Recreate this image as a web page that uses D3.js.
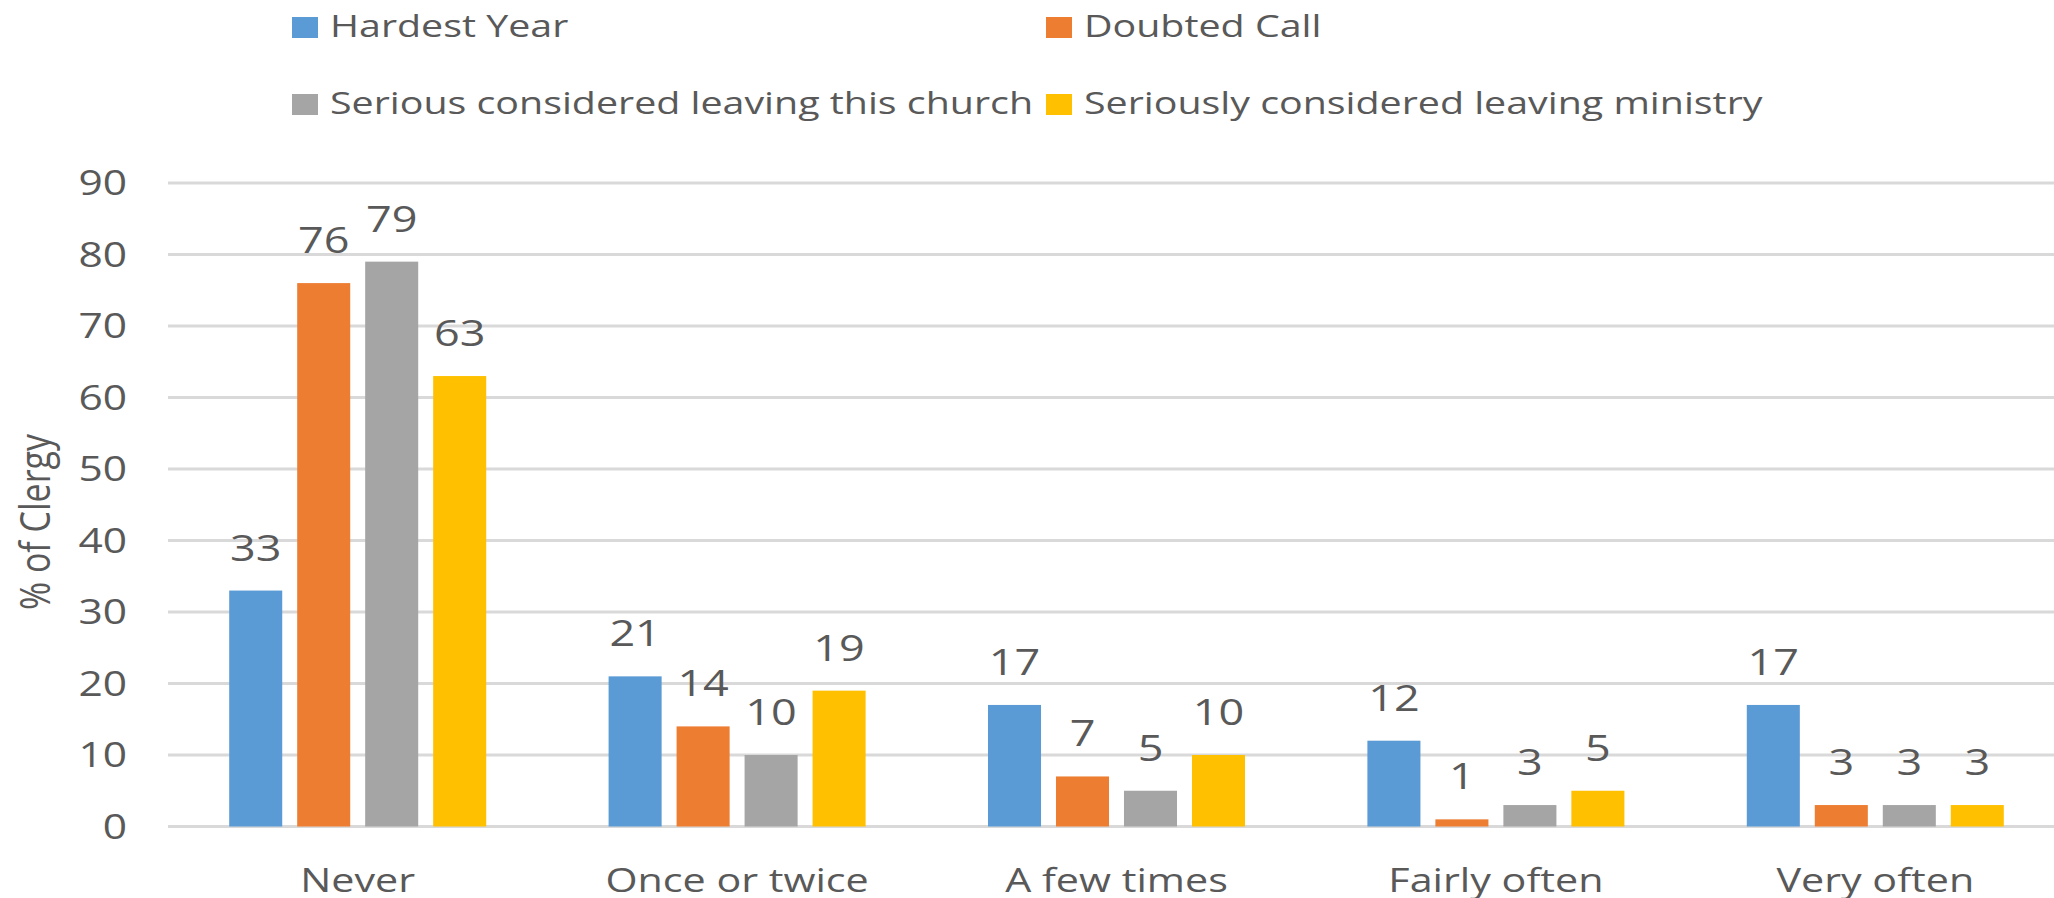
<!DOCTYPE html>
<html>
<head>
<meta charset="utf-8">
<script src="https://cdn.jsdelivr.net/npm/d3@7"></script>
<style>
    body { margin: 0; background: #fff; }
    text { font-family: "Open Sans", sans-serif; fill: #595959; }
</style>
</head>
<body>
<div id="chart_area"></div>
<script>
// data
var categories = ["Never", "Once or twice", "A few times", "Fairly often", "Very often"];
var series_names = ["Hardest Year", "Doubted Call",
    "Serious considered leaving this church", "Seriously considered leaving ministry"];
var hardest_year = [33, 21, 17, 12, 17];
var doubted_call = [76, 14, 7, 1, 3];
var leaving_church = [79, 10, 5, 3, 3];
var leaving_ministry = [63, 19, 10, 5, 3];
var y_ticks = [0, 10, 20, 30, 40, 50, 60, 70, 80, 90];

var colors = ["#5B9BD5", "#ED7D31", "#A5A5A5", "#FFC000"];
var all_series = [hardest_year, doubted_call, leaving_church, leaving_ministry];

var svg_w = 2054, svg_h = 898;
var stretch = 1.25; // text in the picture is a bit wide

var svg = d3.select("#chart_area")
    .append("svg")
    .attr("width", svg_w)
    .attr("height", svg_h);

var x0 = d3.scaleBand()
    .domain(categories)
    .range([168, 2065])
    .padding(0);

var x1 = d3.scaleBand()
    .domain(d3.range(series_names.length))
    .range([0, x0.bandwidth()])
    .paddingInner(0.22)
    .paddingOuter(0.9);

var yScale = d3.scaleLinear()
    .domain([0, 90])
    .range([826.5, 183]);

// stretched text helper
function put_text(parent, x, y, str, size, anchor, rot) {
    var g = parent.append("g")
        .attr("transform", "translate(" + x + "," + y + ") scale(" + stretch + ",1)" +
            (rot ? " rotate(" + rot + ")" : ""));
    return g.append("text")
        .attr("text-anchor", anchor)
        .style("font-size", size + "px")
        .text(str);
}

// gridlines
var grid = svg.append("g").attr("id", "grid");
grid.selectAll("line")
    .data(y_ticks)
    .enter()
    .append("line")
    .attr("x1", 168)
    .attr("x2", svg_w)
    .attr("y1", function(d){ return yScale(d); })
    .attr("y2", function(d){ return yScale(d); })
    .style("stroke", "#D9D9D9")
    .style("stroke-width", 3);

// y tick labels
var y_labels = svg.append("g").attr("id", "y_labels");
y_ticks.forEach(function(d){
    put_text(y_labels, 127, yScale(d) + 12, d, 34, "end");
});

// y title
put_text(svg, 50, 522, "% of Clergy", 34, "middle", -90);

// bars
var groups = svg.append("g")
    .attr("id", "bars_group")
    .selectAll("g")
    .data(categories)
    .enter()
    .append("g")
    .attr("transform", function(d){ return "translate(" + x0(d) + ",0)"; });

groups.selectAll("rect")
    .data(function(d, i){
        return all_series.map(function(s, j){ return {s: j, v: s[i]}; });
    })
    .enter()
    .append("rect")
    .attr("x", function(d){ return x1(d.s); })
    .attr("y", function(d){ return yScale(d.v); })
    .attr("width", x1.bandwidth())
    .attr("height", function(d){ return yScale(0) - yScale(d.v); })
    .style("fill", function(d){ return colors[d.s]; });

// value labels
groups.each(function(c, i){
    var g = d3.select(this);
    all_series.forEach(function(s, j){
        put_text(g, x1(j) + x1.bandwidth() / 2, yScale(s[i]) - 30, s[i], 36, "middle");
    });
});

// category labels
categories.forEach(function(c){
    put_text(svg, x0(c) + x0.bandwidth() / 2, 892, c, 33, "middle");
});

// legend
var legend_pos = [[292, 17], [1046, 17], [292, 94], [1046, 94]];
var legend = svg.append("g").attr("id", "legend");
series_names.forEach(function(name, i){
    var lg = legend.append("g")
        .attr("transform", "translate(" + legend_pos[i][0] + "," + legend_pos[i][1] + ")");
    lg.append("rect")
        .attr("width", 26)
        .attr("height", 21)
        .style("fill", colors[i]);
    put_text(lg, 38, 20, name, 31.5, "start");
});
</script>
</body>
</html>
